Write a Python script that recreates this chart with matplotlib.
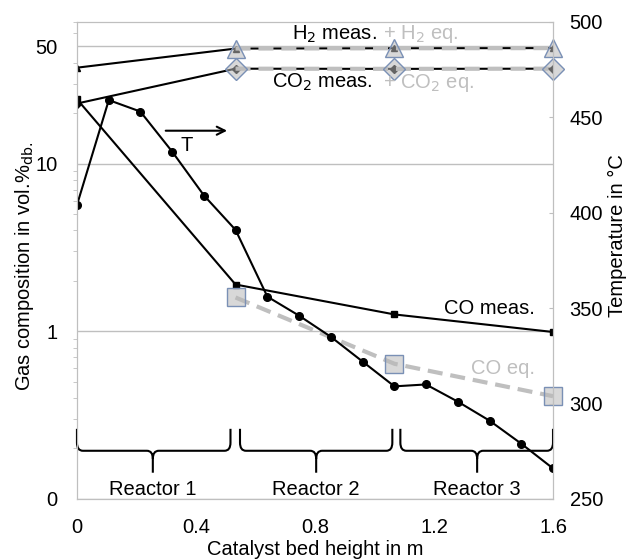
import matplotlib
matplotlib.use("Agg")
import matplotlib.pyplot as plt
import matplotlib.transforms as mtransforms
from matplotlib.path import Path
from matplotlib.patches import PathPatch
from matplotlib.ticker import FixedLocator, LogLocator, NullFormatter

plt.rcParams["font.family"] = ["Liberation Sans", "DejaVu Sans"]
plt.rcParams["font.size"] = 14.5

# ----- data ----------------------------------------------------------------
x_temp = [0.0, 0.107, 0.213, 0.32, 0.427, 0.533, 0.64, 0.747,
          0.853, 0.96, 1.067, 1.173, 1.28, 1.387, 1.493, 1.6]
temp = [404, 459, 453, 432, 409, 391, 356, 346,
        335, 322, 309, 310, 301, 291, 279, 266]

x_meas = [0.0, 0.533, 1.067, 1.6]
h2_meas = [37.3, 48.5, 48.7, 48.8]
co2_meas = [22.8, 36.8, 36.7, 36.8]
co_meas = [24.2, 1.9, 1.26, 0.99]

x_eq = [0.533, 1.067, 1.6]
h2_eq = [48.5, 48.7, 48.8]
co2_eq = [36.8, 36.7, 36.8]
co_eq = [1.59, 0.64, 0.41]

reactor_names = ["Reactor 1", "Reactor 2", "Reactor 3"]
reactor_start = [0.0, 0.548, 1.087]
reactor_end = [0.516, 1.06, 1.6]
reactor_tip = [0.255, 0.804, 1.345]

left_ticks = [0.1, 1, 10, 50]
left_labels = ["0", "1", "10", "50"]
x_ticks = [0, 0.4, 0.8, 1.2, 1.6]
x_labels = ["0", "0.4", "0.8", "1.2", "1.6"]
right_ticks = [250, 300, 350, 400, 450, 500]

GREY = "#BFBFBF"
EQ_FACE = (0.72, 0.72, 0.72, 0.55)
EQ_EDGE = "#7A90B5"

fig = plt.figure(figsize=(6.36, 5.6), dpi=100)
ax = fig.add_axes([0.121, 0.109, 0.7485, 0.852])
ax2 = ax.twinx()

# ----- measured composition ------------------------------------------------
ax.plot(x_meas, h2_meas, "-", color="black", lw=1.5, marker="^", ms=5, zorder=2)
ax.plot(x_meas, co2_meas, "-", color="black", lw=1.5, marker="D", ms=4, zorder=2)
ax.plot(x_meas, co_meas, "-", color="black", lw=1.5, marker="s", ms=5, zorder=2)

# ----- equilibrium composition ---------------------------------------------
eq_style = dict(color=GREY, lw=3, dashes=(3.6, 1.9), mfc=EQ_FACE, mec=EQ_EDGE,
                mew=1, zorder=3, clip_on=False)
ax.plot(x_eq, h2_eq, marker="^", ms=13, **eq_style)
ax.plot(x_eq, co2_eq, marker="D", ms=11.5, **eq_style)
ax.plot(x_eq, co_eq, marker="s", ms=12.5, **eq_style)

ax.set_yscale("log")
ax.set_ylim(0.1, 70)
ax.set_xlim(0, 1.6)
ax.yaxis.set_major_locator(FixedLocator(left_ticks))
ax.set_yticklabels(left_labels)
ax.yaxis.set_minor_locator(LogLocator(base=10, subs=range(2, 10)))
ax.yaxis.set_minor_formatter(NullFormatter())
ax.tick_params(axis="y", which="major", length=0, pad=14)
ax.tick_params(axis="y", which="minor", length=3, color=GREY, direction="out")
ax.set_xticks(x_ticks)
ax.set_xticklabels(x_labels)
ax.tick_params(axis="x", length=0, pad=14)
ax.grid(True, which="major", axis="y", color=GREY, lw=1)
ax.set_axisbelow(True)
ax.set_xlabel("Catalyst bed height in m", labelpad=2)
ax.set_ylabel("Gas composition in vol.%$_{\\mathrm{db.}}$")
ax.yaxis.set_label_coords(-0.085, 0.487)

# ----- temperature -----------------------------------------------------------
ax2.plot(x_temp, temp, "o-", color="black", lw=1.5, ms=5.5)
ax2.set_ylim(250, 500)
ax2.set_yticks(right_ticks)
ax2.tick_params(axis="y", length=3, direction="in", color=GREY, pad=12)
ax2.set_ylabel("Temperature in \u00b0C")
ax2.yaxis.set_label_coords(1.115, 0.553)

for a in (ax, ax2):
    for s in a.spines.values():
        s.set_color(GREY)

# ----- annotations -----------------------------------------------------------
ax.text(0.723, 59, "H$_2$ meas.", ha="left", va="center")
ax.text(1.029, 59, "+ H$_2$ eq.", ha="left", va="center", color=GREY)
ax.text(0.655, 30.4, "CO$_2$ meas.", ha="left", va="center")
ax.text(1.029, 30.4, "+ CO$_2$ eq.", ha="left", va="center", color=GREY)
ax.text(1.54, 1.37, "CO meas.", ha="right", va="center")
ax.text(1.54, 0.60, "CO eq.", ha="right", va="center", color=GREY)
ax.annotate("", xy=(0.514, 15.7), xytext=(0.289, 15.7),
            arrowprops=dict(arrowstyle="->", color="black", lw=1.5))
ax.text(0.37, 12.8, "T", ha="center", va="center")

# ----- reactor braces ----------------------------------------------------------
trans = mtransforms.blended_transform_factory(ax.transData, ax.transAxes)
y_top, y_mid, y_bot = 0.147, 0.101, 0.055
rx, ry = 0.02, 0.017
for name, x0, x1, xt in zip(reactor_names, reactor_start, reactor_end, reactor_tip):
    verts = [(x0, y_top), (x0, y_mid + ry), (x0, y_mid), (x0 + rx, y_mid),
             (xt - rx, y_mid), (xt, y_mid), (xt, y_mid - ry), (xt, y_bot),
             (xt, y_mid - ry), (xt, y_mid), (xt + rx, y_mid),
             (x1 - rx, y_mid), (x1, y_mid), (x1, y_mid + ry), (x1, y_top)]
    codes = [Path.MOVETO, Path.LINETO, Path.CURVE3, Path.CURVE3,
             Path.LINETO, Path.CURVE3, Path.CURVE3, Path.LINETO,
             Path.MOVETO, Path.CURVE3, Path.CURVE3,
             Path.LINETO, Path.CURVE3, Path.CURVE3, Path.LINETO]
    ax2.add_patch(PathPatch(Path(verts, codes), fill=False, lw=1.5,
                            color="black", transform=trans, clip_on=False))
    ax2.text(xt, 0.019, name, ha="center", va="center", transform=trans)

fig.savefig("out.png", dpi=100)
